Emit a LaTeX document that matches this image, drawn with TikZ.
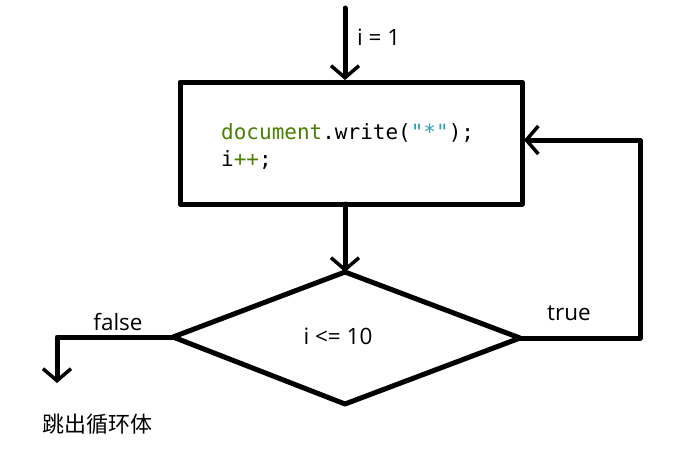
\documentclass[tikz,border=0pt]{standalone}
\usepackage{fontspec}
\setmainfont{Open Sans}
\newfontfamily\cjkfont{Noto Sans CJK SC}
\newfontfamily\codefont{DejaVu Sans Mono}
\usetikzlibrary{arrows.meta}
\definecolor{codegreen}{HTML}{4A8000}
\definecolor{codeteal}{HTML}{2E9FB5}
\tikzset{
  flow/.style={line width=5pt, line cap=round, line join=round},
  arr/.style={flow, -{Straight Barb[length=12pt,width=28pt,line width=3.5pt]}},
  lbl/.style={font=\fontsize{22.5}{26}\selectfont, inner sep=0pt},
  code/.style={font=\codefont\fontsize{21}{24}\selectfont, inner sep=0pt, anchor=base west}
}
\begin{document}
\begin{tikzpicture}[x=1pt,y=-1pt]
\useasboundingbox (0,0) rectangle (690,448);
% box
\node[draw, flow, minimum width=342pt, minimum height=122pt, inner sep=0pt] (box) at (351,143) {};
% diamond corners
\coordinate (dt) at (345,272);
\coordinate (dl) at (173,337);
\coordinate (dr) at (520,338);
\coordinate (db) at (345,404);
\draw[flow] (dt) -- (dr) -- (db) -- (dl) -- cycle;
% code text
\node[code] (c1) at (221,139) {\textcolor{codegreen}{document}.write(\textcolor{codeteal}{"*"});};
\node[code] (c2) at (221,166) {i\textcolor{codegreen}{++};};
% start arrow
\coordinate (start) at (345,8);
\draw[arr] (start) -- (345,80);
\node[lbl, anchor=west] (i1) at (357,37) {i = 1};
% box to diamond
\draw[arr] (345,204) -- (dt);
\node[lbl] (cond) at (338,336) {i <= 10};
% true loop
\coordinate (tr1) at (640,338);
\coordinate (tr2) at (640,140);
\coordinate (tin) at (524,140);
\draw[arr] (dr) -- (tr1) -- (tr2) -- (tin);
\node[lbl] (true) at (569,313) {true};
% false exit
\coordinate (f1) at (57,337);
\coordinate (fend) at (57,383);
\draw[arr] (dl) -- (f1) -- (fend);
\node[lbl] (false) at (118,322) {false};
\node[lbl, font=\cjkfont\fontsize{22}{26}\selectfont] (exit) at (97,424) {跳出循环体};
\end{tikzpicture}
\end{document}
